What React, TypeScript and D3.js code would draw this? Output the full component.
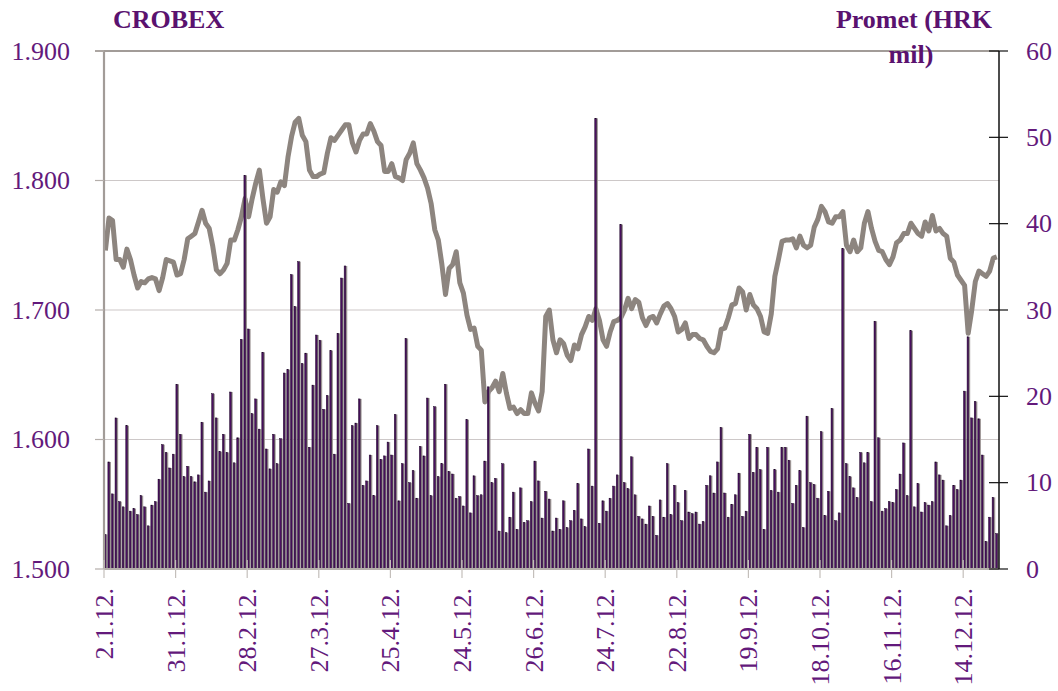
import React, { useEffect, useRef } from "react";
import * as d3 from "d3";

// CROBEX index, daily close (left axis)
const crobex = [
  1746, 1771, 1769, 1739, 1739, 1733, 1747, 1739, 1727, 1717, 1722, 1721, 1724, 1725, 1724, 1715, 1725, 1739, 1738, 1737,
  1727, 1728, 1739, 1755, 1757, 1759, 1768, 1777, 1767, 1763, 1749, 1731, 1728, 1731, 1736, 1754, 1754, 1762, 1772, 1786,
  1772, 1786, 1798, 1808, 1786, 1767, 1772, 1793, 1791, 1799, 1796, 1818, 1834, 1845, 1848, 1835, 1830, 1808, 1803, 1803,
  1805, 1806, 1821, 1833, 1831, 1835, 1839, 1843, 1843, 1829, 1822, 1831, 1836, 1836, 1844, 1838, 1830, 1827, 1807, 1807,
  1813, 1803, 1802, 1800, 1816, 1821, 1829, 1813, 1808, 1802, 1794, 1782, 1762, 1754, 1735, 1712, 1732, 1735, 1745, 1721,
  1713, 1696, 1685, 1686, 1672, 1669, 1629, 1637, 1640, 1645, 1637, 1651, 1636, 1624, 1625, 1620, 1623, 1620, 1620, 1636,
  1628, 1622, 1637, 1695, 1700, 1677, 1667, 1677, 1674, 1665, 1661, 1673, 1670, 1681, 1687, 1695, 1692, 1701, 1692, 1677,
  1672, 1683, 1691, 1692, 1694, 1700, 1709, 1701, 1708, 1706, 1694, 1688, 1694, 1695, 1690, 1697, 1703, 1705, 1701, 1695,
  1683, 1685, 1690, 1678, 1681, 1681, 1678, 1677, 1672, 1668, 1667, 1670, 1685, 1686, 1694, 1704, 1705, 1717, 1714, 1700,
  1712, 1704, 1701, 1695, 1683, 1682, 1697, 1726, 1739, 1753, 1754, 1754, 1755, 1748, 1757, 1750, 1748, 1750, 1764, 1770,
  1780, 1776, 1768, 1767, 1772, 1772, 1776, 1750, 1745, 1754, 1745, 1748, 1767, 1776, 1763, 1753, 1746, 1745, 1739, 1735,
  1741, 1752, 1754, 1759, 1759, 1767, 1763, 1759, 1757, 1768, 1761, 1773, 1761, 1763, 1759, 1757, 1740, 1737, 1727, 1723,
  1719, 1682, 1700, 1722, 1730, 1728, 1726, 1730, 1740, 1741,
];

// Promet (HRK mil), daily turnover (right axis)
const promet = [
  4.0, 12.4, 8.7, 17.5, 7.8, 7.2, 16.6, 6.7, 7.0, 6.3, 8.5, 7.2, 5.0, 7.4, 7.8, 10.4, 14.4, 13.5, 11.7, 13.3,
  21.4, 15.6, 10.7, 11.9, 10.7, 10.1, 10.9, 17.0, 8.9, 10.2, 20.3, 17.5, 13.6, 15.6, 13.5, 20.5, 12.3, 15.2, 26.6, 45.6,
  27.8, 18.0, 19.7, 16.2, 25.1, 13.9, 11.6, 15.6, 12.2, 15.1, 22.7, 23.1, 34.1, 30.4, 35.6, 23.8, 25.0, 14.1, 21.3, 27.1,
  26.5, 18.5, 20.1, 25.3, 13.3, 27.3, 33.7, 35.1, 7.6, 16.6, 16.9, 19.7, 9.7, 10.2, 13.2, 8.5, 16.6, 12.7, 13.1, 14.7,
  13.2, 17.9, 7.9, 12.2, 26.7, 10.0, 11.4, 8.2, 14.2, 13.1, 19.8, 8.5, 18.8, 10.7, 12.2, 21.4, 11.3, 11.0, 8.2, 8.4,
  7.3, 17.3, 6.5, 10.8, 8.5, 8.6, 12.5, 21.1, 10.0, 10.5, 4.4, 12.2, 4.2, 6.0, 8.9, 4.6, 9.4, 5.4, 5.6, 7.8,
  12.5, 10.2, 5.9, 9.0, 8.1, 4.4, 5.9, 4.6, 7.9, 4.8, 5.6, 6.8, 9.9, 5.8, 4.9, 13.9, 9.6, 52.2, 5.3, 7.9,
  6.7, 8.2, 9.6, 10.9, 39.9, 10.0, 9.3, 13.0, 8.6, 6.1, 5.8, 5.2, 7.3, 6.1, 3.9, 8.0, 6.0, 12.2, 6.3, 9.7,
  7.7, 5.6, 9.1, 6.6, 6.4, 6.6, 5.2, 5.5, 9.7, 10.8, 8.8, 12.4, 16.4, 8.8, 6.0, 7.5, 8.6, 11.1, 6.1, 6.7,
  15.6, 11.2, 14.1, 11.5, 4.6, 14.1, 9.1, 11.5, 8.9, 14.1, 14.1, 12.6, 7.6, 9.7, 11.4, 4.8, 17.7, 10.0, 9.8, 8.2,
  15.9, 6.2, 9.0, 18.6, 5.6, 6.5, 37.1, 12.2, 10.7, 9.4, 8.3, 13.5, 12.3, 13.5, 7.8, 28.7, 15.2, 6.7, 7.0, 7.8,
  7.7, 9.2, 11.0, 14.6, 8.5, 27.6, 7.2, 9.9, 6.6, 7.7, 7.4, 7.8, 12.4, 10.9, 10.3, 5.0, 6.2, 9.7, 9.2, 10.3,
  20.6, 26.9, 17.5, 19.4, 17.4, 13.2, 3.2, 6.0, 8.3, 4.1,
];

const dateTickIndex = [0, 20, 40, 60, 80, 100, 120, 140, 160, 180, 200, 220, 240];
const dateLabels = [
  "2.1.12.", "31.1.12.", "28.2.12.", "27.3.12.", "25.4.12.", "24.5.12.", "26.6.12.",
  "24.7.12.", "22.8.12.", "19.9.12.", "18.10.12.", "16.11.12.", "14.12.12.",
];
const leftTicks = [1500, 1600, 1700, 1800, 1900];
const rightTicks = [0, 10, 20, 30, 40, 50, 60];

const FONT = "'Liberation Serif', 'DejaVu Serif', serif";
const LABEL = "#63197b";
const TITLE = "#5a126f";

export default function App() {
  const svgRef = useRef<SVGSVGElement>(null);

  useEffect(() => {
    const svg = d3.select(svgRef.current);
    svg.selectAll("*").remove();

    const left = 104, right = 999, top = 51, bottom = 569;
    const x = d3.scaleBand<number>().domain(d3.range(promet.length)).range([left, right]).padding(0);
    const yL = d3.scaleLinear().domain([1500, 1900]).range([bottom, top]);
    const yR = d3.scaleLinear().domain([0, 60]).range([bottom, top]);
    const fmt = d3.formatLocale({ decimal: ",", thousands: ".", grouping: [3], currency: ["", ""] }).format(",");

    // horizontal grid
    svg.append("g").selectAll("line")
      .data(leftTicks.filter(d => d > 1500 && d < 1900))
      .join("line")
      .attr("x1", left).attr("x2", right)
      .attr("y1", d => yL(d)).attr("y2", d => yL(d))
      .attr("stroke", "#cdc8c8").attr("stroke-width", 1.2);

    // CROBEX line
    const line = d3.line<number>()
      .x((_, i) => (x(i) as number) + 1.4)
      .y(d => yL(d));
    svg.append("path")
      .datum(crobex)
      .attr("d", line)
      .attr("fill", "none")
      .attr("stroke", "#8d857f")
      .attr("stroke-width", 5)
      .attr("stroke-linejoin", "round");

    // turnover bars: grey shadow then purple bar
    const bars = svg.append("g");
    bars.selectAll("rect.sh")
      .data(promet)
      .join("rect")
      .attr("class", "sh")
      .attr("x", (_, i) => (x(i) as number) + 1.6)
      .attr("y", d => yR(d))
      .attr("width", 1.8)
      .attr("height", d => bottom - yR(d))
      .attr("fill", "#9c9494");
    bars.selectAll("rect.b")
      .data(promet)
      .join("rect")
      .attr("class", "b")
      .attr("x", (_, i) => (x(i) as number) + 0.3)
      .attr("y", d => yR(d))
      .attr("width", 1.6)
      .attr("height", d => bottom - yR(d))
      .attr("fill", "#4c1062")
      .attr("stroke", "#1c0626")
      .attr("stroke-width", 0.5);

    // frame / axes
    svg.append("line").attr("x1", 95).attr("x2", right).attr("y1", top).attr("y2", top)
      .attr("stroke", "#a29c98").attr("stroke-width", 2);
    svg.append("line").attr("x1", left).attr("x2", left).attr("y1", top).attr("y2", bottom)
      .attr("stroke", "#a29c98").attr("stroke-width", 2.2);
    svg.append("line").attr("x1", left).attr("x2", right).attr("y1", bottom).attr("y2", bottom)
      .attr("stroke", "#b4aeaa").attr("stroke-width", 2);
    svg.append("line").attr("x1", right).attr("x2", right).attr("y1", top).attr("y2", bottom)
      .attr("stroke", "#111").attr("stroke-width", 1.5);

    // left axis ticks + labels
    const gl = svg.append("g");
    gl.selectAll("line").data(leftTicks).join("line")
      .attr("x1", 95).attr("x2", left).attr("y1", d => yL(d)).attr("y2", d => yL(d))
      .attr("stroke", "#b4aeaa").attr("stroke-width", 1.2);
    gl.selectAll("text").data(leftTicks).join("text")
      .attr("x", 70).attr("y", d => yL(d) + 8.5)
      .attr("text-anchor", "end")
      .attr("font-family", FONT).attr("font-size", 26).attr("fill", LABEL)
      .text(d => fmt(d));

    // right axis ticks + labels
    const gr = svg.append("g");
    gr.selectAll("line").data(rightTicks).join("line")
      .attr("x1", right - 10).attr("x2", right + 9).attr("y1", d => yR(d)).attr("y2", d => yR(d))
      .attr("stroke", "#111").attr("stroke-width", 1.2);
    gr.selectAll("text").data(rightTicks).join("text")
      .attr("x", 1026).attr("y", d => yR(d) + 8.5)
      .attr("font-family", FONT).attr("font-size", 26).attr("fill", LABEL)
      .text(d => String(d));

    // date axis
    const gx = svg.append("g");
    gx.selectAll("line").data(dateTickIndex).join("line")
      .attr("x1", d => x(d) as number).attr("x2", d => x(d) as number)
      .attr("y1", bottom - 9).attr("y2", bottom + 9)
      .attr("stroke", "#c4bfbb").attr("stroke-width", 1.2);
    gx.selectAll("text").data(dateTickIndex).join("text")
      .attr("transform", d => `translate(${(x(d) as number) + 9},588) rotate(-90)`)
      .attr("text-anchor", "end")
      .attr("font-family", FONT).attr("font-size", 26).attr("fill", LABEL)
      .text((_, i) => dateLabels[i]);

    // titles
    svg.append("text").attr("x", 113).attr("y", 28)
      .attr("font-family", FONT).attr("font-size", 26).attr("font-weight", "bold").attr("fill", TITLE)
      .text("CROBEX");
    svg.append("text").attr("x", 914).attr("y", 28).attr("text-anchor", "middle")
      .attr("font-family", FONT).attr("font-size", 26).attr("font-weight", "bold").attr("fill", TITLE)
      .text("Promet (HRK");
    svg.append("text").attr("x", 911).attr("y", 63).attr("text-anchor", "middle")
      .attr("font-family", FONT).attr("font-size", 26).attr("font-weight", "bold").attr("fill", TITLE)
      .text("mil)");
  }, []);

  return (
    <svg
      ref={svgRef}
      width={1058}
      height={691}
      style={{ position: "absolute", left: 0, top: 0, background: "#fff" }}
    />
  );
}
